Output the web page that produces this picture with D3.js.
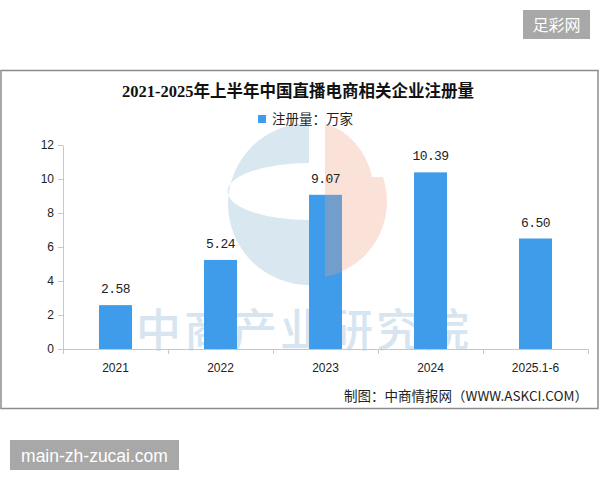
<!DOCTYPE html>
<meta charset="utf-8">
<style>
body { margin:0; background:#fff; }
svg text { font-family: "Liberation Sans", "Noto Sans CJK SC", sans-serif; }
.tick line { stroke:#c8c8c8; }
.axis path { stroke:#c8c8c8; }
</style>
<div id="chart"></div>
<script src="https://cdn.jsdelivr.net/npm/d3@7/dist/d3.min.js"></script>
<script>

var categories = ["2021", "2022", "2023", "2024", "2025.1-6"]
var values = [2.58, 5.24, 9.07, 10.39, 6.50]
var yTicks = [0, 2, 4, 6, 8, 10, 12]
var title = "2021-2025年上半年中国直播电商相关企业注册量"
var legendLabel = "注册量：万家"
var source = "制图：中商情报网（WWW.ASKCI.COM）"

var width = 600, height = 480
var barColor = "#3e9cea"

var svg = d3.select("#chart").append("svg")
    .attr("width", width)
    .attr("height", height)

var x = d3.scaleBand()
    .domain(categories)
    .range([63, 588])
    .paddingInner(0.686)
    .paddingOuter(0.343)

var y = d3.scaleLinear()
    .domain([0, 12])
    .range([349, 145])

// frame
svg.append("rect")
    .attr("x", 1).attr("y", 70.5)
    .attr("width", 597).attr("height", 338)
    .attr("fill", "#fff")
    .attr("stroke", "#8c8c8c")
    .attr("stroke-width", 1.5)

// watermark (under bars)
var wm = svg.append("g")
wm.append("text")
    .attr("x", 136).attr("y", 347)
    .attr("font-size", 45)
    .attr("letter-spacing", 3)
    .attr("font-weight", 500)
    .style("font-family", "'Noto Sans CJK SC'")
    .attr("fill", "#d6e5f0")
    .text("中商产业研究院")

// blue "C" part of logo
var cx = 306, cy = 204, r = 81
wm.append("path")
    .attr("d", "M" + (cx + 3) + "," + (cy - r) +
      " A" + r + "," + r + " 0 0 0 " + (cx + 3) + "," + (cy + r) +
      " L" + (cx + 3) + "," + (cy + 16) +
      " A" + (r - 1) + "," + 28 + " 0 0 1 " + (cx + 3) + "," + (cy - 41) + " Z")
    .attr("fill", "#d9e7f0")

// title
svg.append("text")
    .attr("x", 298).attr("y", 97)
    .attr("text-anchor", "middle")
    .attr("font-size", 16.5)
    .attr("font-weight", "bold")
    .style("font-family", "'Liberation Serif', 'Noto Sans CJK SC', serif")
    .attr("fill", "#111")
    .text(title)

// legend
svg.append("rect")
    .attr("x", 258).attr("y", 115)
    .attr("width", 8).attr("height", 8)
    .attr("fill", barColor)
svg.append("text")
    .attr("x", 272).attr("y", 124)
    .attr("font-size", 13.5)
    .style("font-family", "'Noto Sans CJK SC'")
    .attr("fill", "#222")
    .text(legendLabel)

// y axis
var yAxis = svg.append("g")
    .attr("class", "axis")
    .attr("transform", "translate(63,0)")
    .call(d3.axisLeft(y).tickValues(yTicks).tickSize(5).tickSizeOuter(0).tickPadding(4))
yAxis.selectAll("text")
    .attr("font-size", 12)
    .attr("fill", "#222")
    .style("font-family", "'Liberation Sans'")

// x axis line and boundary ticks
svg.append("line")
    .attr("x1", x.range()[0]).attr("x2", x.range()[1])
    .attr("y1", y(0) + 0.5).attr("y2", y(0) + 0.5)
    .attr("stroke", "#c8c8c8")
svg.selectAll(".xtick")
    .data(d3.range(categories.length + 1))
    .enter().append("line")
    .attr("class", "xtick")
    .attr("x1", function(i) { return x.range()[0] + i * x.step() + 0.5 })
    .attr("x2", function(i) { return x.range()[0] + i * x.step() + 0.5 })
    .attr("y1", y(0)).attr("y2", y(0) + 5)
    .attr("stroke", "#c8c8c8")

// bars
svg.selectAll(".bar")
    .data(values)
    .enter().append("rect")
    .attr("class", "bar")
    .attr("x", function(d, i) { return x(categories[i]) })
    .attr("y", function(d) { return y(d) })
    .attr("width", x.bandwidth())
    .attr("height", function(d) { return y(0) - y(d) })
    .attr("fill", barColor)

// orange part of logo, drawn over bars with transparency
svg.append("path")
    .attr("d", "M" + (cx + 19) + "," + (cy - r) +
      " A" + (r - 12) + "," + (r - 8) + " 0 0 1 " + (cx + 66) + "," + (cy - 27) +
      " L" + (cx + 77) + "," + (cy - 27) +
      " A" + (r - 4) + "," + (r - 4) + " 0 0 1 " + (cx + 19) + "," + (cy + 73) + " Z")
    .attr("fill", "#f0a080")
    .attr("opacity", 0.3)

// value labels
svg.selectAll(".val")
    .data(values)
    .enter().append("text")
    .attr("class", "val")
    .attr("x", function(d, i) { return x(categories[i]) + x.bandwidth() / 2 })
    .attr("y", function(d) { return y(d) - 12 })
    .attr("text-anchor", "middle")
    .attr("font-size", 13)
    .attr("letter-spacing", -0.6)
    .style("font-family", "'Liberation Mono', monospace")
    .attr("fill", "#222")
    .text(function(d) { return d.toFixed(2) })

// category labels
svg.selectAll(".cat")
    .data(categories)
    .enter().append("text")
    .attr("class", "cat")
    .attr("x", function(d) { return x(d) + x.bandwidth() / 2 })
    .attr("y", 372)
    .attr("text-anchor", "middle")
    .attr("font-size", 12)
    .attr("fill", "#222")
    .text(function(d) { return d })

// source
svg.append("text")
    .attr("x", 588).attr("y", 401)
    .attr("text-anchor", "end")
    .attr("font-size", 13.5)
    .style("font-family", "'Noto Sans CJK SC'")
    .attr("fill", "#222")
    .text(source)

// gray tags
svg.append("rect")
    .attr("x", 523).attr("y", 10).attr("width", 67).attr("height", 29)
    .attr("fill", "#a8a8a8")
svg.append("text")
    .attr("x", 556.5).attr("y", 31)
    .attr("text-anchor", "middle")
    .attr("font-size", 16)
    .style("font-family", "'Noto Sans CJK SC'")
    .attr("fill", "#fff")
    .text("足彩网")

svg.append("rect")
    .attr("x", 10).attr("y", 440).attr("width", 169).attr("height", 30)
    .attr("fill", "#a8a8a8")
svg.append("text")
    .attr("x", 94.5).attr("y", 462)
    .attr("text-anchor", "middle")
    .attr("font-size", 17.5)
    .attr("fill", "#fff")
    .text("main-zh-zucai.com")

</script>
